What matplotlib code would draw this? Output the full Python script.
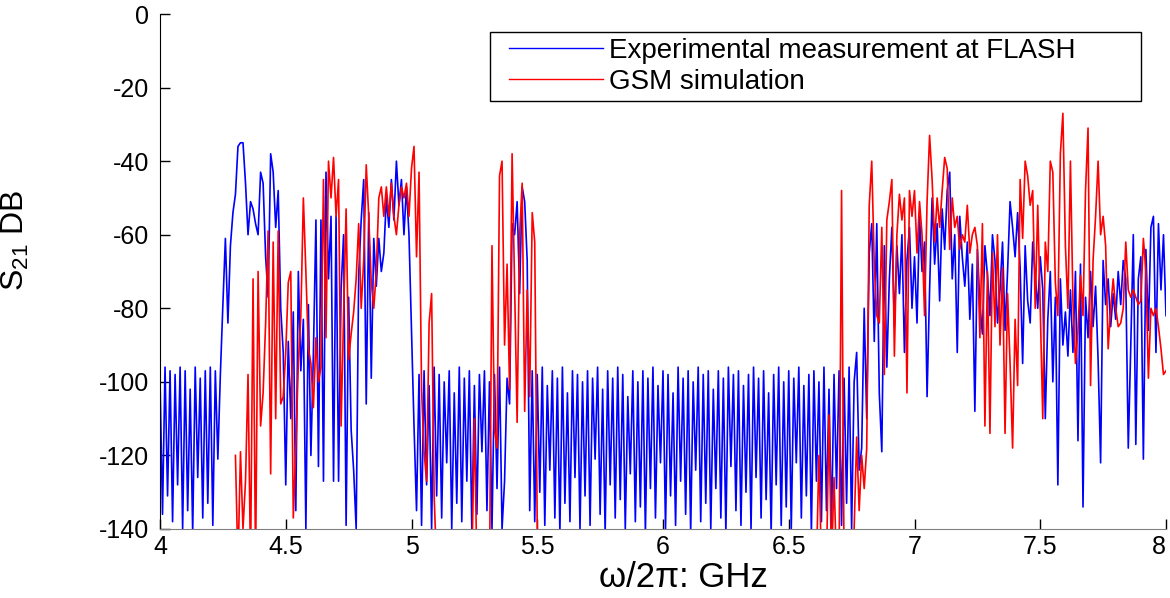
import numpy as np
import matplotlib
matplotlib.use("Agg")
import matplotlib.pyplot as plt
from matplotlib.lines import Line2D
from matplotlib.legend_handler import HandlerLine2D

plt.rcParams['font.family'] = ['Liberation Sans', 'DejaVu Sans']
plt.rcParams['mathtext.fontset'] = 'custom'
plt.rcParams['mathtext.rm'] = 'Liberation Sans'
plt.rcParams['mathtext.default'] = 'regular'
plt.rcParams['axes.unicode_minus'] = False

# measured S21 (dB), one value every 0.01 GHz from 4.00 GHz
blue_start = 4.00
blue_db = [
    -99, -136, -96, -131, -97, -138, -98, -128, -96, -140,
    -97, -135, -102, -141, -96, -126, -99, -137, -97, -133,
    -96, -139, -97, -121, -98, -79, -61, -84, -63, -54,
    -49, -36, -35, -35, -46, -60, -51, -53, -57, -60,
    -43, -46, -66, -77, -38, -43, -58, -48, -80, -92,
    -128, -89, -110, -81, -135, -70, -97, -83, -140, -79,
    -120, -92, -56, -123, -56, -127, -43, -72, -55, -127,
    -55, -127, -75, -60, -139, -77, -113, -124, -140, -71,
    -56, -45, -106, -54, -99, -61, -74, -61, -70, -65,
    -50, -58, -45, -56, -40, -52, -45, -60, -47, -60,
    -86, -112, -135, -98, -139, -97, -128, -101, -140, -96,
    -131, -98, -137, -100, -122, -97, -140, -103, -133, -96,
    -138, -99, -127, -97, -141, -101, -136, -98, -119, -97,
    -135, -100, -140, -98, -129, -96, -140, -127, -99, -106,
    -57, -60, -51, -76, -47, -51, -67, -135, -97, -138,
    -98, -130, -96, -139, -101, -124, -97, -137, -99, -141,
    -96, -133, -103, -138, -97, -126, -98, -140, -100, -131,
    -97, -139, -99, -121, -96, -136, -102, -141, -97, -128,
    -99, -137, -96, -132, -98, -140, -104, -125, -97, -138,
    -100, -134, -97, -141, -99, -129, -96, -137, -101, -122,
    -97, -140, -98, -131, -103, -139, -96, -127, -99, -136,
    -97, -141, -100, -124, -96, -138, -98, -133, -97, -140,
    -102, -129, -97, -137, -99, -141, -96, -123, -98, -135,
    -97, -139, -101, -130, -98, -140, -96, -126, -99, -137,
    -97, -132, -103, -141, -98, -128, -96, -139, -100, -134,
    -97, -140, -99, -122, -96, -137, -101, -131, -98, -141,
    -97, -127, -100, -138, -96, -135, -102, -140, -98, -129,
    -97, -139, -99, -133, -96, -140, -100, -92, -124, -118,
    -80, -110, -65, -57, -89, -57, -103, -119, -63, -96,
    -72, -58, -85, -63, -76, -60, -92, -67, -58, -80,
    -66, -84, -55, -70, -62, -104, -75, -50, -68, -57,
    -78, -53, -64, -48, -43, -72, -60, -92, -55, -66,
    -74, -62, -83, -68, -108, -64, -79, -87, -63, -71,
    -82, -60, -67, -84, -75, -62, -86, -70, -51, -58,
    -66, -54, -69, -95, -63, -78, -84, -62, -71, -80,
    -66, -75, -110, -83, -70, -100, -77, -128, -72, -90,
    -81, -93, -75, -92, -70, -116, -68, -134, -77, -88,
    -70, -85, -74, -94, -122, -67, -79, -72, -85, -76,
    -83, -70, -79, -67, -72, -118, -90, -60, -117, -72,
    -66, -121, -64, -86, -58, -55, -92, -57, -75, -60,
    -82,
]

# GSM simulation, pieces (values below -140 fall off the axis)
red_a_start = 4.30
red_a = [
    -120, -150, -119, -140, -127, -98, -150, -72, -150, -70,
    -112, -103, -84, -59, -125, -62, -110, -59, -106, -104,
    -92, -73, -70, -137, -118, -95, -82, -50, -70, -91,
    -95, -107, -88, -100, -96, -45, -88, -40, -50, -39,
    -55, -45, -112, -82, -53, -94, -87, -81, -72, -57,
    -80, -67, -41, -55, -73, -80, -70, -50, -47, -55,
    -47, -55, -46, -55, -60, -52, -47, -50, -46, -55,
    -42, -36, -66, -43, -102, -119, -127, -84, -76, -131,
    -150,
]
red_b_start = 5.24
red_b = [-150, -110, -150]
red_c_start = 5.31
red_c = [
    -155, -63, -113, -118, -44, -40, -90, -68, -102,
    -38, -74, -111, -60, -46, -108, -75, -104, -54, -62,
    -140, -155,
]
red_d_start = 6.60
red_d = [
    -150, -150, -120, -150, -150, -150, -109, -150, -126, -150,
    -150, -48, -150, -150, -150, -150, -140, -115, -135, -120,
    -129, -118, -52, -40, -68, -82, -84, -58, -98, -56,
    -51, -45, -93, -60, -49, -56, -50, -103, -48, -55,
    -48, -65, -51, -60, -82, -51, -33, -45, -62, -50,
    -58, -48, -39, -42, -64, -50, -58, -55, -64, -60,
    -62, -52, -65, -60, -58, -63, -88, -57, -112, -70,
    -114, -65, -85, -60, -90, -69, -114, -76, -95, -118,
    -83, -101, -45, -61, -40, -44, -52, -48, -80, -52,
    -80, -110, -62, -70, -40, -43, -73, -82, -38, -27,
    -63, -80, -40, -78, -95, -86, -71, -82, -48, -31,
    -101, -67, -55, -40, -60, -55, -63, -91, -80, -72,
    -80, -85, -84, -80, -62, -75, -77, -75, -77, -79,
    -78, -61, -70, -99, -80, -82, -80, -85, -91, -98,
    -97,
]

x_ticks = [4, 4.5, 5, 5.5, 6, 6.5, 7, 7.5, 8]
x_tick_labels = ['4', '4.5', '5', '5.5', '6', '6.5', '7', '7.5', '8']

step = 0.01

def freqs(start, vals):
    return start + step*np.arange(len(vals))

fig = plt.figure(figsize=(11.7, 5.98), dpi=100)
ax = fig.add_axes([160/1170, 1-529/598, 1006/1170, 515/598])

ax.plot(freqs(blue_start, blue_db), blue_db, color='#0000ff', lw=1.2,
        label='Experimental measurement at FLASH')
red_parts = [(red_a_start, red_a), (red_b_start, red_b),
             (red_c_start, red_c), (red_d_start, red_d)]
for k, (s, v) in enumerate(red_parts):
    ax.plot(freqs(s, v), v, color='#ff0000', lw=1.2,
            label='GSM simulation' if k == 0 else None)

ax.set_xlim(4, 8)
ax.set_ylim(-140, 0)
ax.set_xticks(x_ticks)
ax.set_xticklabels(x_tick_labels)
ax.set_yticks(np.arange(-140, 1, 20))
# last label sits at the right edge of the figure
ax.get_xticklabels()[-1].set_horizontalalignment('right')

for side in ['top', 'right']:
    ax.spines[side].set_visible(False)
ax.spines['left'].set_color('#000000')
ax.spines['bottom'].set_color('#808080')
ax.tick_params(axis='both', direction='in', length=7, width=1,
               labelsize=18, colors='black')
ax.tick_params(axis='y', pad=8)
ax.tick_params(axis='x', pad=4)

ax.set_xlabel('ω/2π: GHz', fontsize=25)
ax.xaxis.set_label_coords((683-160)/1006, -(561-529)/515)
ax.set_ylabel('S$_{21}$ DB', fontsize=23)
ax.yaxis.set_label_coords((31-160)/1006, (529-240)/515)

leg = ax.legend(loc='upper left', mode='expand',
                bbox_to_anchor=(490/1170, 1-98/598, 651/1170, 66/598),
                bbox_transform=fig.transFigure, borderaxespad=0,
                fontsize=20, fancybox=False, framealpha=1,
                edgecolor='black', handlelength=3.85, handletextpad=0.25,
                borderpad=0.2, labelspacing=0.2,
                handler_map={Line2D: HandlerLine2D(xpad=0.5)})
leg.get_frame().set_linewidth(1.0)
for ln in leg.get_lines():
    ln.set_linewidth(1.0)

fig.savefig('out.png', dpi=100)
